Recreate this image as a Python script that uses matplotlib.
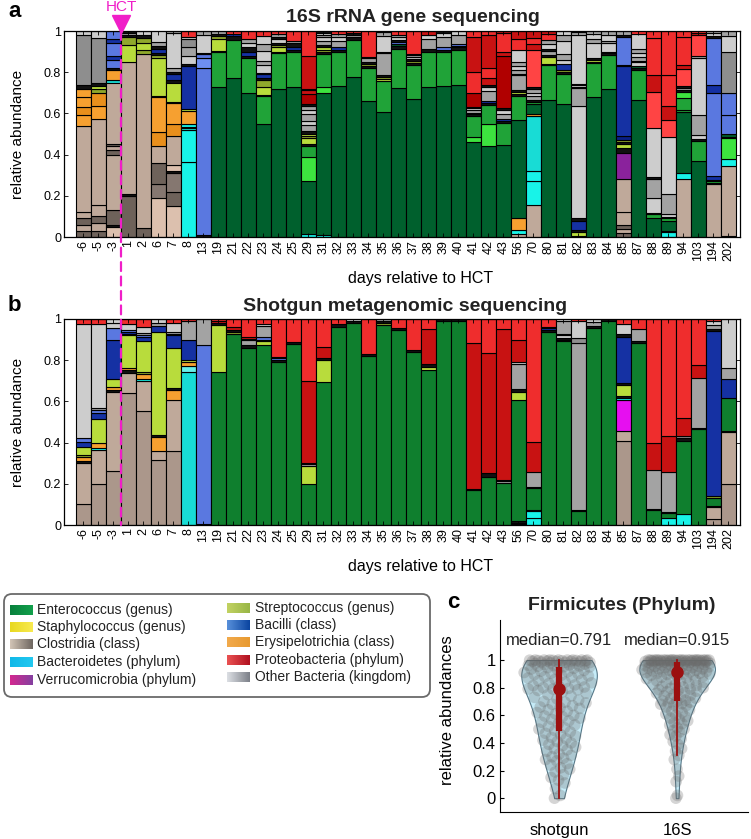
import numpy as np
import matplotlib.pyplot as plt
from matplotlib import mlab
from matplotlib.patches import FancyBboxPatch, ConnectionPatch
from matplotlib.colors import LinearSegmentedColormap

plt.rcParams['font.family'] = ['Liberation Sans', 'DejaVu Sans']

# sample days relative to HCT
days = ['-6', '-5', '-3', '1', '2', '6', '7', '8', '13', '19', '21', '22', '23', '24', '25',
        '29', '31', '32', '33', '34', '35', '36', '37', '38', '39', '40', '41', '42', '43',
        '56', '70', '80', '81', '82', '83', '84', '85', '87', '88', '89', '94', '103', '194', '202']

# stacked composition per sample, bottom -> top ("taxon-shade fraction")
rna16s = [
    "C3 .03, C1 .03, C3 .03, C1 .03, C1 .42, Er .05, Er2 .04, Er .05, Er .04, K .02, O3 .24, O .02",
    "C3 .03, C1 .04, C3 .03, C1 .055, C1 .42, Er .06, Er2 .065, S2 .02, S .015, K .015, O3 .215, O .035",
    "C4 .05, K .01, C3 .07, C1 .27, C3 .02, C1 .02, C3 .01, C1 .30, D2 .01, Er .05, K .01, B2 .04, B .02, B2 .06, B .02, B2 .04",
    "C3 .20, K .01, C1 .64, S .08, S2 .04, K .01, O2 .01, K .01",
    "C3 .045, C1 .845, S2 .02, S .03, S2 .025, K .015, O .02",
    "C4 .19, C5 .065, C3 .105, C1 .08, Er2 .07, Er .17, K .005, S .185, S2 .015, K .01, B .02, K .01, O2 .02, O .06",
    "C4 .15, C3 .07, C5 .09, K .01, C4 .03, C1 .14, Er2 .06, Er .10, K .005, S .095, K .01, B .03, K .01, O2 .02, O .17, O2 .01",
    "D .365, D .155, D2 .01, K .005, D .015, Er .06, S .01, B .21, K .01, O .04, O2 .04, O3 .04, O .01, P .03",
    "K .01, B2 .81, B3 .05, B2 .02, K .005, O .085, O2 .02",
    "E .73, E2 .17, K .005, S .055, S2 .015, K .01, O2 .015",
    "E .77, E2 .185, K .02, B .01, P .015",
    "E .70, E2 .17, K .01, B .02, K .02, O .02, O2 .02, P .04",
    "E .55, E2 .135, K .005, S .04, S2 .03, K .01, B .02, K .005, O .04, O2 .02, O .05, O2 .03, O .04, P .025",
    "E .72, E2 .175, K .005, S .02, S2 .01, K .01, O .02, K .01, O2 .015, P .015",
    "E .73, E2 .17, K .01, B .01, K .02, O2 .01, P .05",
    "D .015, E .255, E3 .12, E2 .05, K .01, S .03, S2 .01, S .01, K .015, O2 .03, O .02, O2 .03, O .02, O2 .02, K .01, P4 .05, P2 .02, K .005, P2 .16, P .12",
    "D .01, E .69, E3 .03, E2 .16, K .01, S2 .01, S .01, K .01, O2 .02, O .02, O2 .01, O .01, K .01",
    "E .735, E2 .165, K .01, B .01, O2 .03, O .02, O2 .015, P .015",
    "E .775, E2 .18, K .015, O2 .01, K .01, P .01",
    "E .66, E2 .16, K .01, S2 .01, K .01, O2 .02, K .005, P .125",
    "E .605, E2 .15, S .01, S2 .01, K .01, O2 .11, K .005, O .075, O2 .02, O .005",
    "E .725, E2 .19, K .01, E .01, B2 .01, K .01, O .015, O2 .01, P .02",
    "E .67, E2 .165, K .01, S2 .01, K .01, O .01, O2 .01, K .005, P .11",
    "E .73, E2 .17, K .015, O2 .045, O .02, P2 .02",
    "E .735, E2 .165, K .01, B2 .01, O2 .05, O .02, K .01",
    "E .74, E2 .17, K .01, E .005, B2 .01, O2 .045, O .02",
    "E .46, E3 .025, E2 .10, K .01, B .005, O2 .015, O .01, K .005, P4 .07, P .10, P2 .17, P .03",
    "E .44, E3 .11, E2 .09, K .01, B .01, O2 .05, O .02, K .01, P2 .03, P .05, P2 .16, P .02",
    "E .447, E2 .108, K .01, B .01, O2 .02, O .02, K .01, P4 .255, P2 .02, P .09, P2 .01",
    "C1 .015, D .02, Er .055, E .48, E2 .115, K .01, S .01, K .01, O2 .07, K .005, O2 .02, O .02, O2 .02, O .06, P .05, P2 .04",
    "C1 .155, D .115, D .05, D2 .265, Er .01, E .05, E2 .01, K .01, O2 .02, O .015, O2 .02, K .01, P3 .18, P2 .025, P .03, P2 .04",
    "E .665, E2 .17, K .005, S .035, K .01, O2 .02, K .01, O .02, O2 .02, P .03, P2 .015",
    "E .645, E2 .145, K .01, S2 .01, B .03, O .02, O2 .03, O .06, O2 .03, O .02",
    "K .005, S .02, K .01, B .045, K .01, O .545, O2 .09, K .005, O .01, K .005, O .235, O2 .015, O .01",
    "E .68, E2 .165, K .005, S .01, K .01, O .07, O2 .02, O .025, O2 .015",
    "E .72, E2 .165, K .01, O2 .005, O .04, O2 .01, O .03, O2 .02",
    "C3 .02, C1 .02, C3 .02, C1 .06, C1 .16, V .13, K .02, S .02, K .01, S2 .01, B4 .02, B .34, K .005, B2 .135, K .01, O2 .02",
    "E .665, E2 .145, K .01, E .01, O .02, K .005, O2 .02, O .02, O2 .02, O .07, P .02",
    "E .09, E2 .02, K .005, O .075, O2 .09, K .01, O .24, P3 .175, P2 .08, P .18, P .035",
    "D .025, K .005, E .05, E2 .01, K .005, O .015, O2 .10, O .275, P3 .085, P2 .065, P .15, P .215",
    "C1 .28, D .03, E .295, E2 .01, E2 .06, E3 .03, K .01, O2 .01, K .01, P3 .08, P2 .02, P .135, P .03",
    "E .37, E2 .095, K .01, O .02, O2 .095, O .28, O2 .01, P3 .10, P2 .01, P .01",
    "C1 .255, K .005, E2 .01, K .005, B .02, B2 .405, B .04, B2 .225, K .01, O .015, O2 .01",
    "C3 .005, C1 .34, D .035, E3 .10, K .005, E .015, B2 .09, B2 .11, O3 .20, O .075, O2 .025",
]

shotgun = [
    "C2 .10, C1 .20, K .01, Er .02, S2 .01, S .04, B .025, B2 .015, O .557, P .023",
    "C2 .20, C1 .165, D .01, Er .025, S .115, B .03, B2 .015, O2 .01, O .405, P .025",
    "C2 .26, C1 .385, K .01, Er .015, S .04, B .19, B2 .055, O .025, O .02",
    "C2 .64, C1 .10, K .01, Er .01, S .16, K .005, B .01, B2 .01, O .03, P .025",
    "C2 .555, C1 .145, D .01, Er .025, S2 .01, S .15, B .02, B2 .005, O2 .01, O .03, P .04",
    "C2 .315, C1 .045, Er .065, K .01, S .50, B .03, O2 .015, O .02",
    "C2 .36, C1 .245, Er .05, K .01, S .195, B .06, K .005, O2 .01, O .045, P .02",
    "D2 .745, D3 .025, Er .02, S .01, B .10, O2 .09, P .01",
    "K .005, B2 .87, O2 .125",
    "G .745, S .225, K .01, P2 .01, P .01",
    "G .925, S2 .01, K .01, P2 .015, P .04",
    "G .86, K .015, O2 .025, K .005, P2 .01, P .085",
    "G .875, S .02, K .005, B2 .015, O2 .05, O .01, P .025",
    "G .79, K .01, B2 .01, K .005, P .185",
    "G .88, K .01, P .11",
    "G .20, S .085, O2 .01, K .005, P2 .40, P .30",
    "G .695, S .105, K .01, P2 .055, P .135",
    "G .96, K .015, P .025",
    "G .98, K .01, O .01",
    "G .82, K .01, P .17",
    "G .97, S2 .01, K .01, O2 .01",
    "G .945, K .01, P .045",
    "G .84, K .01, P .15",
    "G .75, S .015, K .015, P2 .17, P .05",
    "G .99, K .01",
    "G .99, K .01",
    "G .17, K .005, P2 .71, P .115",
    "G .235, K .015, P2 .585, P .165",
    "G .205, O2 .01, K .005, P2 .73, P .05",
    "D .005, C1 .005, K .01, G .585, S .04, K .015, O2 .12, O .01, P2 .11, P .10",
    "D .035, D .035, K .005, G .105, K .005, O2 .07, P2 .15, P .595",
    "G .935, K .01, B .01, P2 .005, P .04",
    "G .895, S2 .005, K .01, O .01, B .005, O2 .065, O .01",
    "G .07, K .005, O2 .81, O3 .025, O .08, P .01",
    "G .955, K .01, O2 .02, O .015",
    "G .99, K .01",
    "C2 .41, C1 .045, V2 .15, D .01, K .01, S .055, K .01, B .225, K .01, O .05, P .025",
    "G .885, K .01, O2 .055, P .05",
    "G .075, K .005, O2 .185, P2 .135, P .60",
    "D .035, G .025, K .005, O2 .19, P2 .175, P .57",
    "D .055, G .355, K .01, O3 .01, P2 .09, P .48",
    "G .465, K .005, O2 .245, P2 .06, P .225",
    "C2 .03, C1 .055, K .005, G .04, S2 .01, B .80, K .01, O2 .02, O .02, P .01",
    "C2 .20, C1 .25, K .005, G .16, B .095, O2 .05, O .24",
]

# legend entries
legend_left = ['Enterococcus (genus)', 'Staphylococcus (genus)', 'Clostridia (class)',
               'Bacteroidetes (phylum)', 'Verrucomicrobia (phylum)']
legend_right = ['Streptococcus (genus)', 'Bacilli (class)', 'Erysipelotrichia (class)',
                'Proteobacteria (phylum)', 'Other Bacteria (kingdom)']

# Firmicutes relative abundance per sample (panel c)
firm_shotgun = [
    0.00, 0.02, 0.07, 0.11, 0.13, 0.15, 0.17, 0.19, 0.21, 0.22, 0.24, 0.25, 0.27, 0.28, 0.29,
    0.30, 0.31, 0.32, 0.34, 0.35, 0.36, 0.37, 0.38, 0.39, 0.40, 0.41, 0.42, 0.43, 0.44, 0.45,
    0.46, 0.47, 0.48, 0.49, 0.50, 0.51, 0.52, 0.53, 0.54, 0.55, 0.56, 0.57, 0.58, 0.59, 0.595,
    0.60, 0.61, 0.62, 0.63, 0.64, 0.65, 0.655, 0.66, 0.67, 0.68, 0.69, 0.695,
    0.70, 0.71, 0.72, 0.73, 0.74, 0.75, 0.76, 0.77, 0.78, 0.785, 0.79, 0.791, 0.795,
    0.80, 0.805, 0.81, 0.815, 0.82, 0.83, 0.835, 0.84, 0.85, 0.855, 0.86, 0.87, 0.875, 0.88,
    0.885, 0.89, 0.895,
    0.90, 0.905, 0.91, 0.915, 0.92, 0.925, 0.93, 0.935, 0.94, 0.945, 0.95, 0.952, 0.955, 0.958,
    0.96, 0.962, 0.965, 0.968, 0.97, 0.972, 0.975, 0.977, 0.98, 0.982, 0.984, 0.986, 0.988,
    0.99, 0.991, 0.992, 0.993, 0.994, 0.995, 0.996, 0.997, 0.998, 0.999,
    1.0, 1.0, 1.0, 1.0, 1.0, 1.0, 1.0, 1.0]
firm_16s = [
    0.00, 0.02, 0.12, 0.16, 0.21, 0.28, 0.31, 0.34, 0.36, 0.39, 0.41, 0.43, 0.45, 0.46, 0.48,
    0.49, 0.50, 0.51, 0.53, 0.54, 0.55, 0.56, 0.57, 0.58, 0.59, 0.60, 0.61, 0.62, 0.63, 0.64,
    0.65, 0.66, 0.67, 0.675, 0.68, 0.685, 0.69, 0.695,
    0.70, 0.705, 0.71, 0.72, 0.725, 0.73, 0.74, 0.745, 0.75, 0.76, 0.765, 0.77, 0.775, 0.78,
    0.785, 0.79, 0.795,
    0.80, 0.805, 0.81, 0.815, 0.82, 0.825, 0.83, 0.835, 0.84, 0.845, 0.85, 0.855, 0.86, 0.865,
    0.87, 0.875, 0.88, 0.885, 0.89, 0.893, 0.896, 0.899,
    0.90, 0.902, 0.905, 0.907, 0.91, 0.912, 0.915, 0.917, 0.92, 0.922,
    0.925, 0.927, 0.93, 0.932, 0.935, 0.937, 0.94, 0.942, 0.945, 0.947,
    0.95, 0.952, 0.954, 0.956, 0.958, 0.96, 0.962, 0.964, 0.966, 0.968,
    0.97, 0.972, 0.974, 0.976, 0.978, 0.98, 0.981, 0.982, 0.983, 0.984,
    0.985, 0.986, 0.987, 0.988, 0.989, 0.99, 0.99, 0.991, 0.992, 0.993,
    0.994, 0.995, 0.995, 0.996, 0.997, 0.998, 0.999, 1.0, 1.0, 1.0,
    1.0, 1.0, 1.0, 1.0, 1.0, 1.0, 1.0, 1.0, 1.0, 1.0,
    1.0, 1.0, 1.0, 1.0, 1.0, 1.0, 1.0, 1.0, 1.0, 1.0]
medians = [0.791, 0.915]

seg_colors = {
    'E': '#00602d', 'G': '#0f7f2e', 'E2': '#20a338', 'E3': '#3de33f',
    'S': '#b8dc3c', 'S2': '#8fa82c',
    'B': '#1531a3', 'B4': '#0a1f85', 'B2': '#5a78e0', 'B3': '#6e8ff2',
    'C1': '#bfa99a', 'C2': '#ab978b', 'C3': '#6e625a', 'C4': '#dcc0ae', 'C5': '#857770',
    'Er': '#f6a030', 'Er2': '#e88f1c',
    'D': '#18f3e8', 'D2': '#18dcd5', 'D3': '#66f0ea',
    'P': '#ef2d2d', 'P2': '#c81212', 'P3': '#ff4444', 'P4': '#b00000',
    'V': '#8a229c', 'V2': '#e60ff0',
    'O': '#cdcdcd', 'O2': '#a3a3a3', 'O3': '#8e8e8e', 'K': '#111111',
}
grad_left = [('#08803c', '#12a04c'), ('#e8d820', '#f8ea50'), ('#d2c4b6', '#6e6660'),
             ('#10b8e8', '#22c8f0'), ('#d42890', '#8440a0')]
grad_right = [('#c2d262', '#98b646'), ('#5890da', '#0a44a0'), ('#f2aa4c', '#e89a30'),
              ('#ea5252', '#b01020'), ('#dcdfe4', '#7c8088')]
magenta = '#f01ec8'

W, H = 751, 839
fig = plt.figure(figsize=(W / 100, H / 100), dpi=100)


def draw_stacks(ax, bars):
    xs, hs, bs, cs = [], [], [], []
    for i, s in enumerate(bars):
        bottom = 0.0
        for item in s.split(','):
            code, val = item.split()
            val = float(val)
            xs.append(i)
            hs.append(val)
            bs.append(bottom)
            cs.append(seg_colors[code])
            bottom += val
    ax.bar(xs, hs, bottom=bs, width=1.0, color=cs, edgecolor='black', linewidth=0.8)


def style_bar_axes(ax):
    ax.set_xlim(-1.3, 43.77)
    ax.set_ylim(0, 1)
    ax.set_yticks([0, 0.2, 0.4, 0.6, 0.8, 1])
    ax.set_yticklabels(['0', '0.2', '0.4', '0.6', '0.8', '1'])
    ax.set_xticks(range(len(days)))
    ax.set_xticklabels(days, rotation=90)
    ax.tick_params(direction='in', top=True, right=True, length=3, width=0.6,
                   labelsize=9, pad=2)
    ax.set_ylabel('relative abundance', fontsize=11)
    ax.yaxis.set_label_coords(-0.057, 0.5)
    ax.set_xlabel('days relative to HCT', fontsize=11.5)
    ax.xaxis.set_label_coords(0.528, -0.165)
    for sp in ax.spines.values():
        sp.set_linewidth(0.9)


axA = fig.add_axes([64 / W, 1 - 237 / H, 676 / W, 206 / H])
draw_stacks(axA, rna16s)
style_bar_axes(axA)
axA.text(0.516, 1.045, '16S rRNA gene sequencing', transform=axA.transAxes,
         ha='center', va='baseline', fontsize=14, fontweight='bold', color='#222222')

axB = fig.add_axes([64 / W, 1 - 525 / H, 676 / W, 206 / H])
draw_stacks(axB, shotgun)
style_bar_axes(axB)
axB.text(0.505, 1.04, 'Shotgun metagenomic sequencing', transform=axB.transAxes,
         ha='center', va='baseline', fontsize=14, fontweight='bold', color='#222222')

# HCT marker
axA.plot(2.5, 1.034, marker='v', markersize=13, color=magenta, clip_on=False, zorder=5)
axA.text(2.5, 1.115, 'HCT', color=magenta, fontsize=11, ha='center', va='center')
con = ConnectionPatch(xyA=(2.5, 1.0), coordsA=axA.transData, xyB=(2.5, 0.0),
                      coordsB=axB.transData, color=magenta, linestyle=(0, (4, 2.5)),
                      linewidth=1.6, zorder=10)
fig.add_artist(con)

fig.text(8 / W, 1 - 17 / H, 'a', fontsize=16, fontweight='bold', va='baseline')
fig.text(8 / W, 1 - 311 / H, 'b', fontsize=16, fontweight='bold', va='baseline')
fig.text(447 / W, 1 - 608 / H, 'c', fontsize=16, fontweight='bold', va='baseline')

# legend box
axL = fig.add_axes([0, 1 - 702 / H, 436 / W, 113 / H])
axL.axis('off')
axL.add_patch(FancyBboxPatch((4, 594), 426, 103, boxstyle='round,pad=0,rounding_size=8',
                             facecolor='white', edgecolor='#6a6a6a', linewidth=1.3, zorder=0))
grad = np.linspace(0, 1, 64).reshape(1, -1)
rows_left = [610, 627, 644, 662, 680]
rows_right = [608, 625, 642, 660, 677]
for (lab, (c1, c2), y) in zip(legend_left, grad_left, rows_left):
    axL.imshow(grad, cmap=LinearSegmentedColormap.from_list('g', [c1, c2]),
               extent=[10, 33, y + 5, y - 5], aspect='auto', zorder=2)
    axL.text(37, y, lab, fontsize=10, va='center', ha='left', color='#222222')
for (lab, (c1, c2), y) in zip(legend_right, grad_right, rows_right):
    axL.imshow(grad, cmap=LinearSegmentedColormap.from_list('g', [c1, c2]),
               extent=[227, 250, y + 5, y - 5], aspect='auto', zorder=2)
    axL.text(255, y, lab, fontsize=10, va='center', ha='left', color='#222222')
axL.set_xlim(0, 436)
axL.set_ylim(702, 589)

# panel c violins
axC = fig.add_axes([500 / W, 1 - 812 / H, 248 / W, 192 / H])
groups = [firm_shotgun, firm_16s]
bw = 0.55
parts = axC.violinplot(groups, positions=[1, 2], widths=0.64, showextrema=False,
                       bw_method=bw)
for body in parts['bodies']:
    body.set_facecolor('#c6ecf8')
    body.set_edgecolor('#567888')
    body.set_alpha(1)
    body.set_linewidth(0.8)

for k, vals in enumerate(groups):
    vals = np.asarray(vals)
    kde = mlab.GaussianKDE(vals, bw)
    grid = np.linspace(vals.min(), vals.max(), 200)
    dmax = kde.evaluate(grid).max()
    dens = kde.evaluate(vals) / dmax
    u = (np.arange(len(vals)) * 0.6180339887) % 1 * 2 - 1
    axC.scatter(k + 1 + 0.3 * dens * u, vals, s=70, color='#6a6a6a', alpha=0.28,
                edgecolors='none', zorder=3)
    q1, q3 = np.percentile(vals, [25, 75])
    iqr = q3 - q1
    lo = vals[vals >= q1 - 1.5 * iqr].min()
    hi = vals[vals <= q3 + 1.5 * iqr].max()
    axC.plot([k + 1, k + 1], [lo, hi], color='#9b1010', linewidth=1.3, zorder=4)
    axC.plot([k + 1, k + 1], [q1, q3], color='#9b1010', linewidth=4.5, zorder=4,
             solid_capstyle='butt')
    axC.plot(k + 1, medians[k], 'o', color='#9b1010', markersize=8, zorder=5)
    axC.text(k + 1, 1.14, 'median=%.3f' % medians[k], ha='center', va='center',
             fontsize=12, color='#222222')

axC.set_xlim(0.5, 2.6)
axC.set_ylim(-0.1, 1.29)
axC.set_yticks([0, 0.2, 0.4, 0.6, 0.8, 1])
axC.set_yticklabels(['0', '0.2', '0.4', '0.6', '0.8', '1'])
axC.set_xticks([1, 2])
axC.set_xticklabels(['shotgun', '16S'])
axC.tick_params(axis='y', direction='in', length=3, labelsize=12, pad=3)
axC.tick_params(axis='x', length=0, labelsize=12, pad=8)
axC.spines['top'].set_visible(False)
axC.spines['right'].set_visible(False)
axC.set_ylabel('relative abundances', fontsize=12)
axC.yaxis.set_label_coords(-0.18, 0.53)
axC.text(0.49, 1.052, 'Firmicutes (Phylum)', transform=axC.transAxes, ha='center',
         va='baseline', fontsize=14, fontweight='bold', color='#222222')

fig.savefig('out.png', dpi=100)
